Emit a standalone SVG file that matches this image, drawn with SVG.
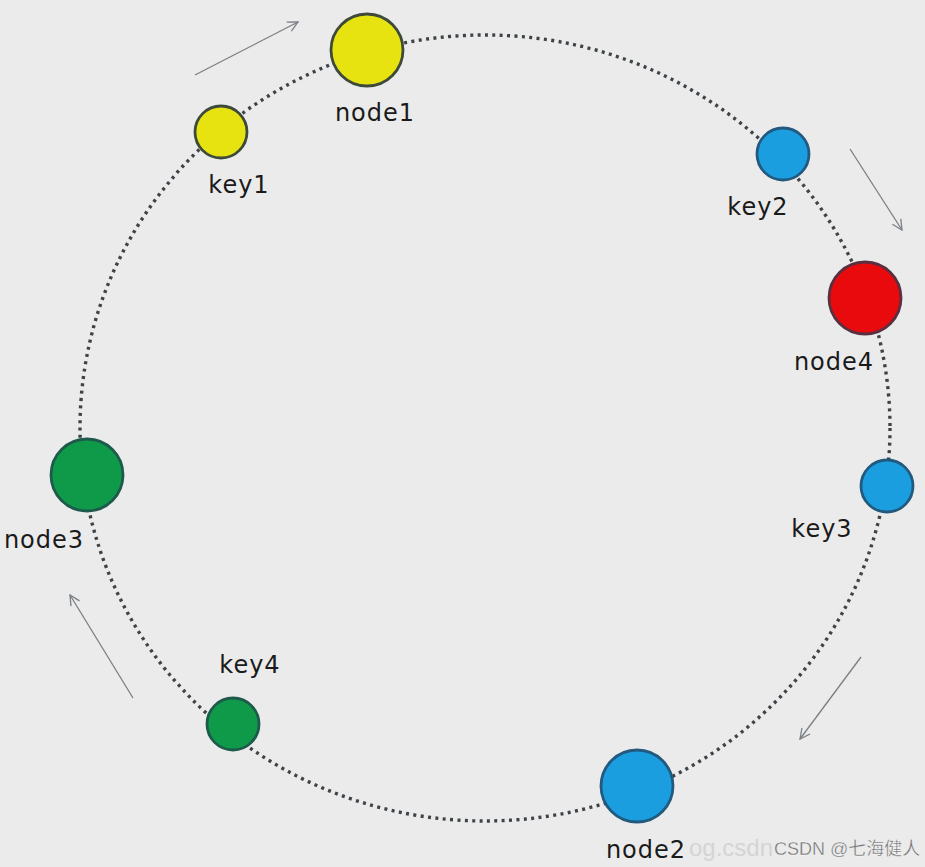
<svg xmlns="http://www.w3.org/2000/svg" width="925" height="867" viewBox="0 0 925 867">
<style>
.lbl{font-family:"DejaVu Sans","Noto Sans",sans-serif;font-size:24px;fill:#1a1a1a;text-anchor:middle;letter-spacing:1px}
.ring{fill:none;stroke:#3e4348;stroke-width:3.4;stroke-dasharray:3 4.4}
.dir{fill:none;stroke:#7a7f84;stroke-width:1.3;marker-end:url(#chev)}
.yel{fill:#e6e310;stroke:#3d4a3a;stroke-width:2.8}
.blu{fill:#1b9ee0;stroke:#215a7e;stroke-width:2.8}
.red{fill:#e80a0d;stroke:#5a3040;stroke-width:2.8}
.grn{fill:#0e9a48;stroke:#1e5a4c;stroke-width:2.8}
</style>
<defs>
<marker id="chev" viewBox="0 0 12 12" refX="11" refY="6" markerWidth="12" markerHeight="12" markerUnits="userSpaceOnUse" orient="auto">
<path d="M1,1 L11,6 L1,11" fill="none" stroke="#7a7f84" stroke-width="1.3"/>
</marker>
</defs>
<rect width="925" height="867" fill="#ebebeb"/>
<g id="connectors">
<ellipse class="ring" cx="485" cy="428" rx="405" ry="393"/>
<line class="dir" x1="195" y1="75" x2="298" y2="22"/>
<line class="dir" x1="850" y1="149" x2="902" y2="230"/>
<line class="dir" x1="861" y1="657" x2="800" y2="739"/>
<line class="dir" x1="133" y1="698" x2="70" y2="595"/>
</g>
<g id="node1"><circle class="yel" cx="367" cy="50" r="36"/><text class="lbl" x="375" y="121">node1</text></g>
<g id="key1"><circle class="yel" cx="221" cy="132" r="26"/><text class="lbl" x="239" y="193">key1</text></g>
<g id="key2"><circle class="blu" cx="783" cy="154" r="26"/><text class="lbl" x="758" y="215">key2</text></g>
<g id="node4"><circle class="red" cx="865" cy="298" r="36"/><text class="lbl" x="834" y="370">node4</text></g>
<g id="key3"><circle class="blu" cx="887" cy="486" r="26"/><text class="lbl" x="822" y="537">key3</text></g>
<g id="node2"><circle class="blu" cx="637" cy="786" r="36"/><text class="lbl" x="646" y="858">node2</text></g>
<g id="key4"><circle class="grn" cx="233" cy="724" r="26"/><text class="lbl" x="250" y="673">key4</text></g>
<g id="node3"><circle class="grn" cx="87" cy="475" r="36"/><text class="lbl" x="44" y="548">node3</text></g>
<g id="watermark">
<text x="689" y="856" font-family="Liberation Sans, sans-serif" font-size="24" fill="#d4d4d4">og.csdn</text>
<text x="774" y="855" font-family="Liberation Sans, 'Noto Sans CJK SC', sans-serif" font-size="18" fill="#6e6e6e" stroke="#ffffff" stroke-width="0.3">CSDN @七海健人</text>
</g>
</svg>
